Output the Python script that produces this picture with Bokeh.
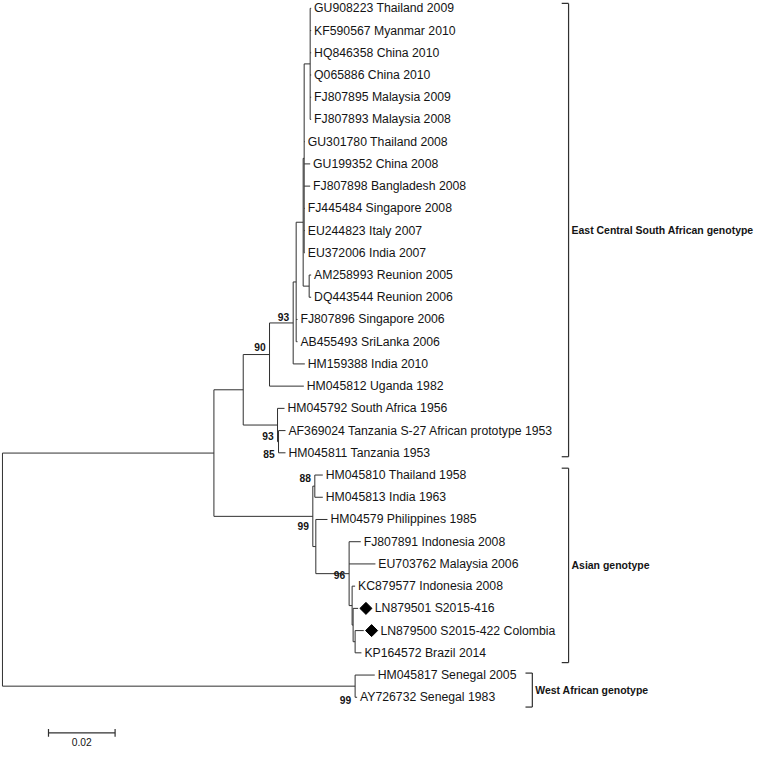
from bokeh.plotting import figure
from bokeh.models import Range1d
from bokeh.embed import file_html
from bokeh.resources import INLINE
from bokeh.core.properties import value
import math

# ---------------- data ----------------
leaves = [
    "GU908223 Thailand 2009", "KF590567 Myanmar 2010", "HQ846358 China 2010",
    "Q065886 China 2010", "FJ807895 Malaysia 2009", "FJ807893 Malaysia 2008",
    "GU301780 Thailand 2008", "GU199352 China 2008", "FJ807898 Bangladesh 2008",
    "FJ445484 Singapore 2008", "EU244823 Italy 2007", "EU372006 India 2007",
    "AM258993 Reunion 2005", "DQ443544 Reunion 2006", "FJ807896 Singapore 2006",
    "AB455493 SriLanka 2006", "HM159388 India 2010", "HM045812 Uganda 1982",
    "HM045792 South Africa 1956", "AF369024 Tanzania S-27 African prototype 1953",
    "HM045811 Tanzania 1953", "HM045810 Thailand 1958", "HM045813 India 1963",
    "HM04579 Philippines 1985", "FJ807891 Indonesia 2008", "EU703762 Malaysia 2006",
    "KC879577 Indonesia 2008", "LN879501 S2015-416", "LN879500 S2015-422 Colombia",
    "KP164572 Brazil 2014", "HM045817 Senegal 2005", "AY726732 Senegal 1983",
]
marked_leaves = ["LN879501 S2015-416", "LN879500 S2015-422 Colombia"]

# edges: child, parent, branch length (substitutions per site)
edge_child = [
    "EA", "WA", "ECSA", "AS99", "N90", "SA", "N93", "HM045812 Uganda 1982",
    "P", "HM159388 India 2010", "N309", "FJ807896 Singapore 2006", "AB455493 SriLanka 2006",
    "N310", "AMDQ", "T", "GU301780 Thailand 2008", "GU199352 China 2008",
    "FJ807898 Bangladesh 2008", "FJ445484 Singapore 2008", "EU244823 Italy 2007",
    "EU372006 India 2007",
    "GU908223 Thailand 2009", "KF590567 Myanmar 2010", "HQ846358 China 2010",
    "Q065886 China 2010", "FJ807895 Malaysia 2009", "FJ807893 Malaysia 2008",
    "AM258993 Reunion 2005", "DQ443544 Reunion 2006",
    "HM045792 South Africa 1956", "SA2", "AF369024 Tanzania S-27 African prototype 1953",
    "HM045811 Tanzania 1953",
    "N88", "Y", "HM045810 Thailand 1958", "HM045813 India 1963",
    "HM04579 Philippines 1985", "N96", "FJ807891 Indonesia 2008", "EU703762 Malaysia 2006",
    "Z", "KC879577 Indonesia 2008", "Z2", "LN879501 S2015-416", "W",
    "LN879500 S2015-422 Colombia", "KP164572 Brazil 2014",
    "HM045817 Senegal 2005", "AY726732 Senegal 1983",
]
edge_parent = [
    "root", "root", "EA", "EA", "ECSA", "ECSA", "N90", "N90",
    "N93", "N93", "P", "P", "P",
    "N309", "N309", "N310", "N310", "N310",
    "N310", "N310", "N310",
    "N310",
    "T", "T", "T",
    "T", "T", "T",
    "AMDQ", "AMDQ",
    "SA", "SA", "SA2",
    "SA2",
    "AS99", "AS99", "N88", "N88",
    "Y", "Y", "N96", "N96",
    "N96", "Z", "Z", "Z2", "Z2",
    "W", "W",
    "WA", "WA",
]
edge_length = [
    0.0635, 0.1059, 0.0088, 0.0297, 0.0079, 0.0103, 0.0071, 0.0103,
    0.0009, 0.0035, 0.0021, 0.0004, 0.0004,
    0.0003, 0.0018, 0.0018, 0.0002, 0.0018,
    0.0018, 0.0002, 0.0002,
    0.0002,
    0.0003, 0.0003, 0.0003,
    0.0003, 0.0003, 0.0003,
    0.0006, 0.0006,
    0.0021, 0.0003, 0.0021,
    0.0021,
    0.0006, 0.0009, 0.0024, 0.0024,
    0.0035, 0.0100, 0.0035, 0.0079,
    0.0009, 0.0009, 0.0003, 0.0015, 0.0006,
    0.0026, 0.0019,
    0.0059, 0.0006,
]

support_node = ["N90", "N93", "SA", "SA2", "N88", "AS99", "N96", "WA"]
support_value = [90, 93, 93, 85, 88, 99, 96, 99]

clade_names = ["East Central South African genotype", "Asian genotype", "West African genotype"]
clade_first = ["GU908223 Thailand 2009", "HM045810 Thailand 1958", "HM045817 Senegal 2005"]
clade_last = ["HM045811 Tanzania 1953", "KP164572 Brazil 2014", "AY726732 Senegal 1983"]

scale_length = 0.02
scale_label = "0.02"

# ---------------- layout helpers ----------------
PX = 1.0 / 3400.0        # substitutions per reference pixel
ROW = 22.7               # reference pixels per leaf row
Y0 = 8.0                 # reference pixel of first leaf row
FS = 762.0 / 778.0       # page scale


def py(v):
    return v / ROW  # reference pixels -> row units


children = {}
blen = {}
for c, p_, l in zip(edge_child, edge_parent, edge_length):
    children.setdefault(p_, []).append(c)
    blen[c] = l

xpos = {"root": 0.0}
ypos = {}


def place(n):
    for c in children.get(n, []):
        xpos[c] = xpos[n] + blen[c]
        place(c)
    if n in children:
        ys = [ypos[c] for c in children[n]]
        ypos[n] = (min(ys) + max(ys)) / 2.0
    else:
        ypos[n] = float(leaves.index(n))


place("root")

# ---------------- figure ----------------
p = figure(width=762, height=747, output_backend="svg", toolbar_location=None,
           x_range=Range1d(-2 * PX, 776 * PX),
           y_range=Range1d(py(763 - Y0), py(0 - Y0)),
           min_border=0)
p.axis.visible = False
p.grid.visible = False
p.outline_line_color = None
p.background_fill_color = "white"
p.border_fill_color = "white"

LC = "#303030"
TC = "#141414"
hx0, hx1, hy = [], [], []
vx, vy0, vy1 = [], [], []
for n, ch in children.items():
    ys = [ypos[c] for c in ch]
    vx.append(xpos[n]); vy0.append(min(ys)); vy1.append(max(ys))
    for c in ch:
        hx0.append(xpos[n]); hx1.append(xpos[c]); hy.append(ypos[c])
p.segment(x0=hx0, y0=hy, x1=hx1, y1=hy, line_color=LC, line_width=1)
p.segment(x0=vx, y0=vy0, x1=vx, y1=vy1, line_color=LC, line_width=1)

# leaf labels
LEAF_FS = f"{12.5*FS:.2f}px"
plain = [l for l in leaves if l not in marked_leaves]
p.text(x=[xpos[l] + 3 * PX for l in plain], y=[ypos[l] for l in plain], text=plain,
       text_baseline="middle", text_align="left", text_color=TC,
       text_font=value("Liberation Sans"), text_font_size=LEAF_FS)
p.scatter(x=[xpos[l] + 8 * PX for l in marked_leaves], y=[ypos[l] for l in marked_leaves],
          marker="square", angle=math.pi / 4, size=8.5, fill_color="black", line_color="black")
p.text(x=[xpos[l] + 17 * PX for l in marked_leaves], y=[ypos[l] for l in marked_leaves],
       text=marked_leaves, text_baseline="middle", text_align="left", text_color=TC,
       text_font=value("Liberation Sans"), text_font_size=LEAF_FS)

# bootstrap supports
sup_dy = [-8, -6, 11, 13, -8, 10, 1, 14]
p.text(x=[xpos[n] - 4 * PX for n in support_node],
       y=[ypos[n] + py(d) for n, d in zip(support_node, sup_dy)],
       text=[str(v) for v in support_value], text_align="right", text_baseline="middle",
       text_color=TC, text_font=value("Liberation Sans"), text_font_style="bold",
       text_font_size=f"{10.5*FS:.2f}px")

# clade brackets
br_x = [578 * PX, 578 * PX, 541 * PX]
br_top = [-5, -7, -2]
br_bot = [4, 10, 10]
tick = 7 * PX
bx0, bx1, by0, by1 = [], [], [], []
lx, ly = [], []
for name, f, l, bx, t, b in zip(clade_names, clade_first, clade_last, br_x, br_top, br_bot):
    ya = ypos[f] + py(t)
    yb = ypos[l] + py(b)
    bx0 += [bx, bx - tick, bx - tick]
    bx1 += [bx, bx, bx]
    by0 += [ya, ya, yb]
    by1 += [yb, ya, yb]
    lx.append(bx + 3 * PX)
    ly.append((ya + yb) / 2)
p.segment(x0=bx0, y0=by0, x1=bx1, y1=by1, line_color=LC, line_width=1.2)
p.text(x=lx, y=ly, text=clade_names, text_baseline="middle", text_align="left",
       text_color=TC, text_font=value("Liberation Sans"), text_font_style="bold",
       text_font_size=f"{10.7*FS:.2f}px")

# scale bar
sb_x0 = 47 * PX
sb_y = py(748 - Y0)
p.segment(x0=[sb_x0, sb_x0, sb_x0 + scale_length], y0=[sb_y, sb_y - py(4), sb_y - py(4)],
          x1=[sb_x0 + scale_length, sb_x0, sb_x0 + scale_length], y1=[sb_y, sb_y + py(4), sb_y + py(4)],
          line_color=LC, line_width=1.2)
p.text(x=[sb_x0 + scale_length / 2], y=[py(757 - Y0)], text=[scale_label], text_align="center",
       text_baseline="middle", text_color=TC, text_font=value("Liberation Sans"),
       text_font_size=f"{10.5*FS:.2f}px")

open("out.html", "w").write(file_html(p, INLINE))
